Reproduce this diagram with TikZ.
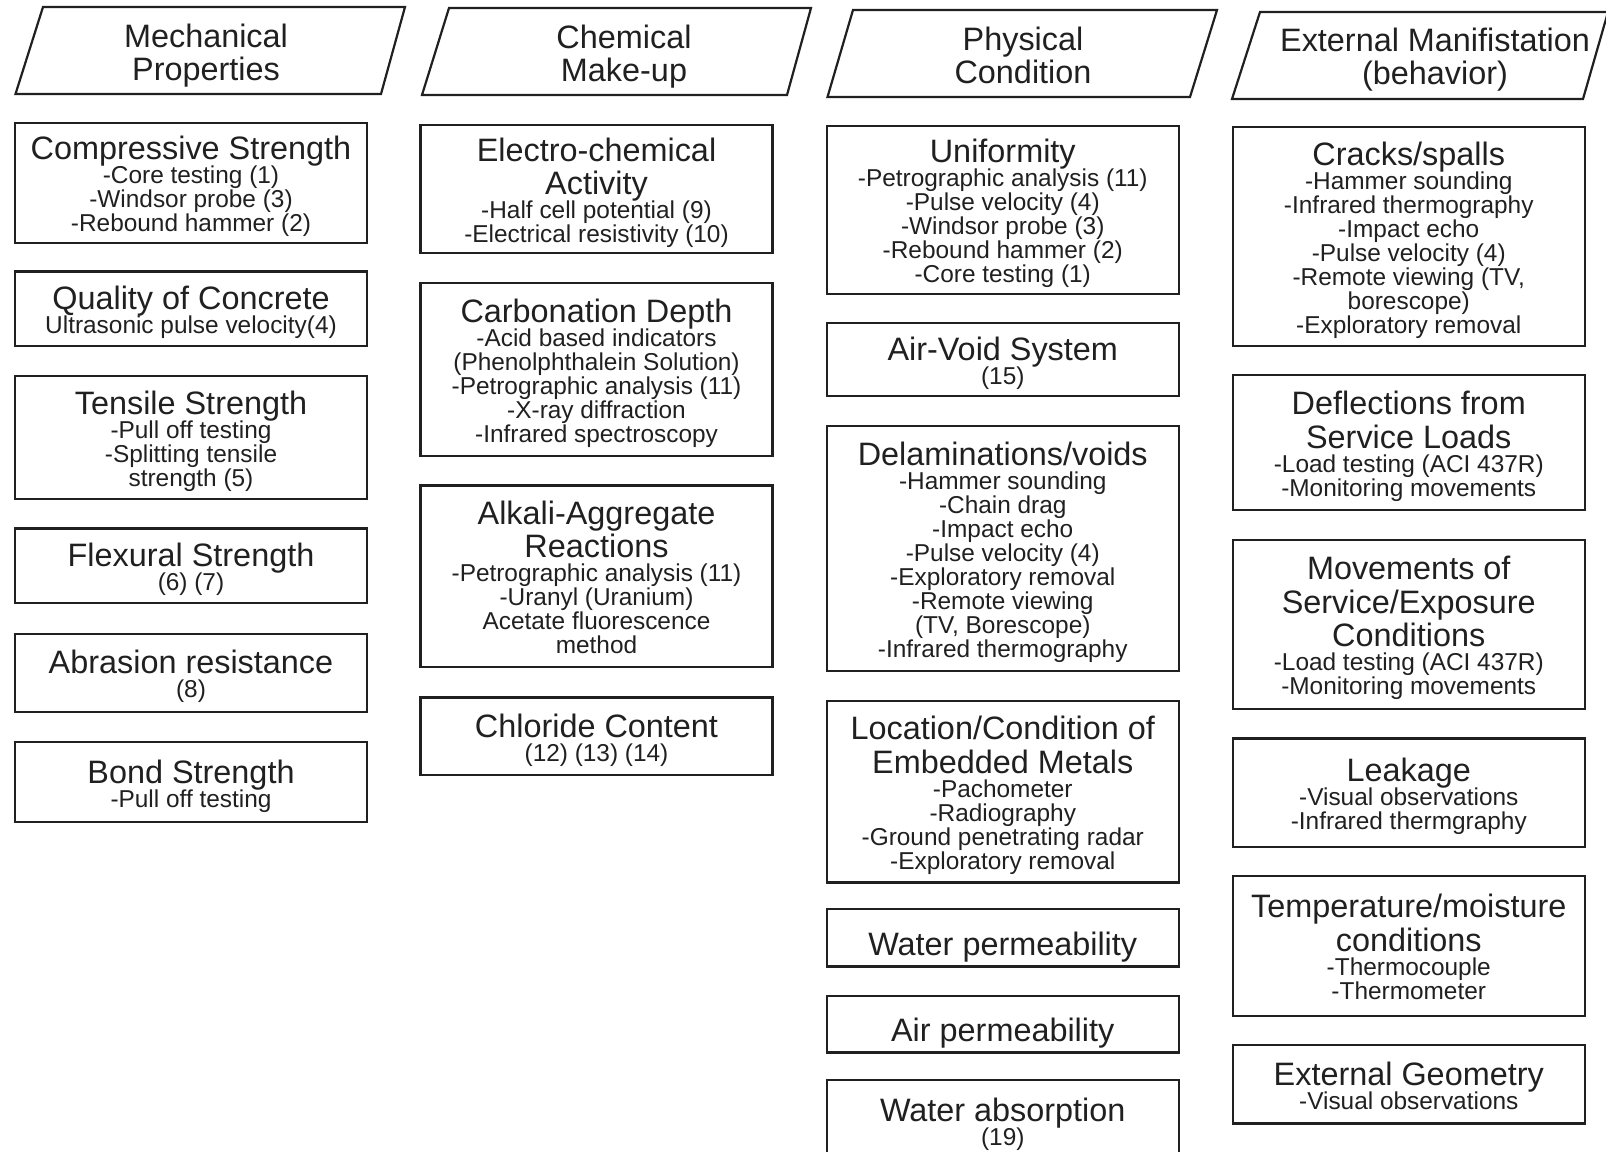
\documentclass[tikz,border=0pt]{standalone}
\usepackage{fontspec}
\setmainfont{Liberation Sans}
\definecolor{ink}{RGB}{32,32,32}
\newcommand\hh[1]{{\fontsize{16.2}{16.8}\selectfont\rule[-3.4pt]{0pt}{19pt}#1}}
\newcommand\sbl[1]{{\fontsize{12.2}{12}\selectfont\rule[-2.7pt]{0pt}{11.7pt}#1}}
\newcommand\subfont{\fontsize{12.2}{12}\selectfont\lineskiplimit=-100pt\lineskip=0pt}
\tikzset{
  box/.style={draw=ink, line width=1.1pt, rectangle, inner sep=0pt,
    minimum width=176pt, align=center, text=ink, font=\subfont},
  para/.style={draw=ink, line width=1.1pt, line join=miter},
  ttl/.style={align=center, text=ink, font=\fontsize{16.2}{16.4}\selectfont, inner sep=0pt}
}
\begin{document}
\begin{tikzpicture}[x=0.5pt,y=-0.5pt]
\useasboundingbox (0,0) rectangle (1606,1151);
\fill[white] (0,0) rectangle (1606,1151);
\clip (0,0) rectangle (1606,1151);

% ---- header parallelograms ----
\coordinate (a1) at (43,7);    \coordinate (b1) at (405,7);
\coordinate (c1) at (381,94);  \coordinate (d1) at (15.5,94);
\coordinate (a2) at (449,8);   \coordinate (b2) at (811,8);
\coordinate (c2) at (787,95);  \coordinate (d2) at (422,95);
\coordinate (a3) at (853,10);  \coordinate (b3) at (1217,10);
\coordinate (c3) at (1190,97); \coordinate (d3) at (827.5,97);
\coordinate (a4) at (1260,12); \coordinate (b4) at (1608,12);
\coordinate (c4) at (1583,99); \coordinate (d4) at (1232,99);
\draw[para] (a1) -- (b1) -- (c1) -- (d1) -- cycle;
\draw[para] (a2) -- (b2) -- (c2) -- (d2) -- cycle;
\draw[para] (a3) -- (b3) -- (c3) -- (d3) -- cycle;
\draw[para] (a4) -- (b4) -- (c4) -- (d4) -- cycle;
\node[ttl] (t1) at (206,56) {Mechanical\\Properties};
\node[ttl] (t2) at (624,56.5) {Chemical\\Make-up};
\node[ttl] (t3) at (1023,55.5) {Physical\\Condition};
\node[ttl] (t4) at (1435,59.5) {External Manifistation\\(behavior)};

% ---- column 1 ----
\node[box, minimum height=59.9pt] (comp) at (191,182.8)
  {\hh{Compressive Strength}\\\sbl{-Core testing (1)}\\\sbl{-Windsor probe (3)}\\\sbl{-Rebound hammer (2)}};
\node[box, minimum height=37.4pt] (qual) at (191,308.8)
  {\hh{Quality of Concrete}\\\sbl{Ultrasonic pulse velocity(4)}};
\node[box, minimum height=61.45pt] (tens) at (191,437.35)
  {\hh{Tensile Strength}\\\sbl{-Pull off testing}\\\sbl{-Splitting tensile}\\\sbl{strength (5)}};
\node[box, minimum height=37.4pt] (flex) at (191,565.9)
  {\hh{Flexural Strength}\\\sbl{(6) (7)}};
\node[box, minimum height=39pt] (abr) at (191,673)
  {\hh{Abrasion resistance}\\\sbl{(8)}};
\node[box, minimum height=40pt] (bond) at (191,782.3)
  {\hh{Bond Strength}\\\sbl{-Pull off testing}};

% ---- column 2 ----
\node[box, minimum height=64pt] (elec) at (596.5,189)
  {\hh{Electro-chemical}\\[4.8pt]\hh{Activity}\\\sbl{-Half cell potential (9)}\\\sbl{-Electrical resistivity (10)}};
\node[box, minimum height=86.55pt] (carb) at (596.5,369.25)
  {\hh{Carbonation Depth}\\\sbl{-Acid based indicators}\\\sbl{(Phenolphthalein Solution)}\\\sbl{-Petrographic analysis (11)}\\\sbl{-X-ray diffraction}\\\sbl{-Infrared spectroscopy}};
\node[box, minimum height=90.65pt] (alk) at (596.5,576.15)
  {\hh{Alkali-Aggregate}\\[4.8pt]\hh{Reactions}\\\sbl{-Petrographic analysis (11)}\\\sbl{-Uranyl (Uranium)}\\\sbl{Acetate fluorescence}\\\sbl{method}};
\node[box, minimum height=38.9pt] (chl) at (596.5,736.4)
  {\hh{Chloride Content}\\\sbl{(12) (13) (14)}};

% ---- column 3 ----
\node[box, minimum height=84pt] (unif) at (1002.75,210)
  {\hh{Uniformity}\\\sbl{-Petrographic analysis (11)}\\\sbl{-Pulse velocity (4)}\\\sbl{-Windsor probe (3)}\\\sbl{-Rebound hammer (2)}\\\sbl{-Core testing (1)}};
\node[box, minimum height=36.5pt] (avs) at (1002.75,359.1)
  {\hh{Air-Void System}\\\sbl{(15)}};
\node[box, minimum height=122.5pt] (delam) at (1002.75,548.5)
  {\hh{Delaminations/voids}\\\sbl{-Hammer sounding}\\\sbl{-Chain drag}\\\sbl{-Impact echo}\\\sbl{-Pulse velocity (4)}\\\sbl{-Exploratory removal}\\\sbl{-Remote viewing}\\\sbl{(TV, Borescope)}\\\sbl{-Infrared thermography}};
\node[box, minimum height=90.65pt] (loc) at (1002.75,791.85)
  {\hh{Location/Condition of}\\[4.8pt]\hh{Embedded Metals}\\\sbl{-Pachometer}\\\sbl{-Radiography}\\\sbl{-Ground penetrating radar}\\\sbl{-Exploratory removal}};
\node[box, minimum height=28.85pt] (wperm) at (1002.75,937.65)
  {\hh{\rule{0pt}{21.7pt}Water permeability}};
\node[box, minimum height=28.4pt] (aperm) at (1002.75,1024.1)
  {\hh{\rule{0pt}{21.2pt}Air permeability}};
\node[box, minimum height=40.75pt] (wabs) at (1002.75,1120.8)
  {\hh{Water absorption}\\\sbl{(19)}};

% ---- column 4 ----
\node[box, minimum height=109.6pt] (crack) at (1408.75,236.6)
  {\hh{Cracks/spalls}\\\sbl{-Hammer sounding}\\\sbl{-Infrared thermography}\\\sbl{-Impact echo}\\\sbl{-Pulse velocity (4)}\\\sbl{-Remote viewing (TV,}\\\sbl{borescope)}\\\sbl{-Exploratory removal}};
\node[box, minimum height=67.55pt] (defl) at (1408.75,442.45)
  {\hh{Deflections from}\\[4.8pt]\hh{Service Loads}\\\sbl{-Load testing (ACI 437R)}\\\sbl{-Monitoring movements}};
\node[box, minimum height=84.45pt] (mov) at (1408.75,624.25)
  {\hh{Movements of}\\[4.8pt]\hh{Service/Exposure}\\[4.8pt]\hh{Conditions}\\\sbl{-Load testing (ACI 437R)}\\\sbl{-Monitoring movements}};
\node[box, minimum height=54.3pt] (leak) at (1408.75,792.7)
  {\hh{Leakage}\\\sbl{-Visual observations}\\\sbl{-Infrared thermgraphy}};
\node[box, minimum height=70.15pt] (temp) at (1408.75,945.85)
  {\hh{Temperature/moisture}\\[4.8pt]\hh{conditions}\\\sbl{-Thermocouple}\\\sbl{-Thermometer}};
\node[box, minimum height=39.4pt] (geom) at (1408.75,1084.1)
  {\hh{External Geometry}\\\sbl{-Visual observations}};
\end{tikzpicture}
\end{document}
